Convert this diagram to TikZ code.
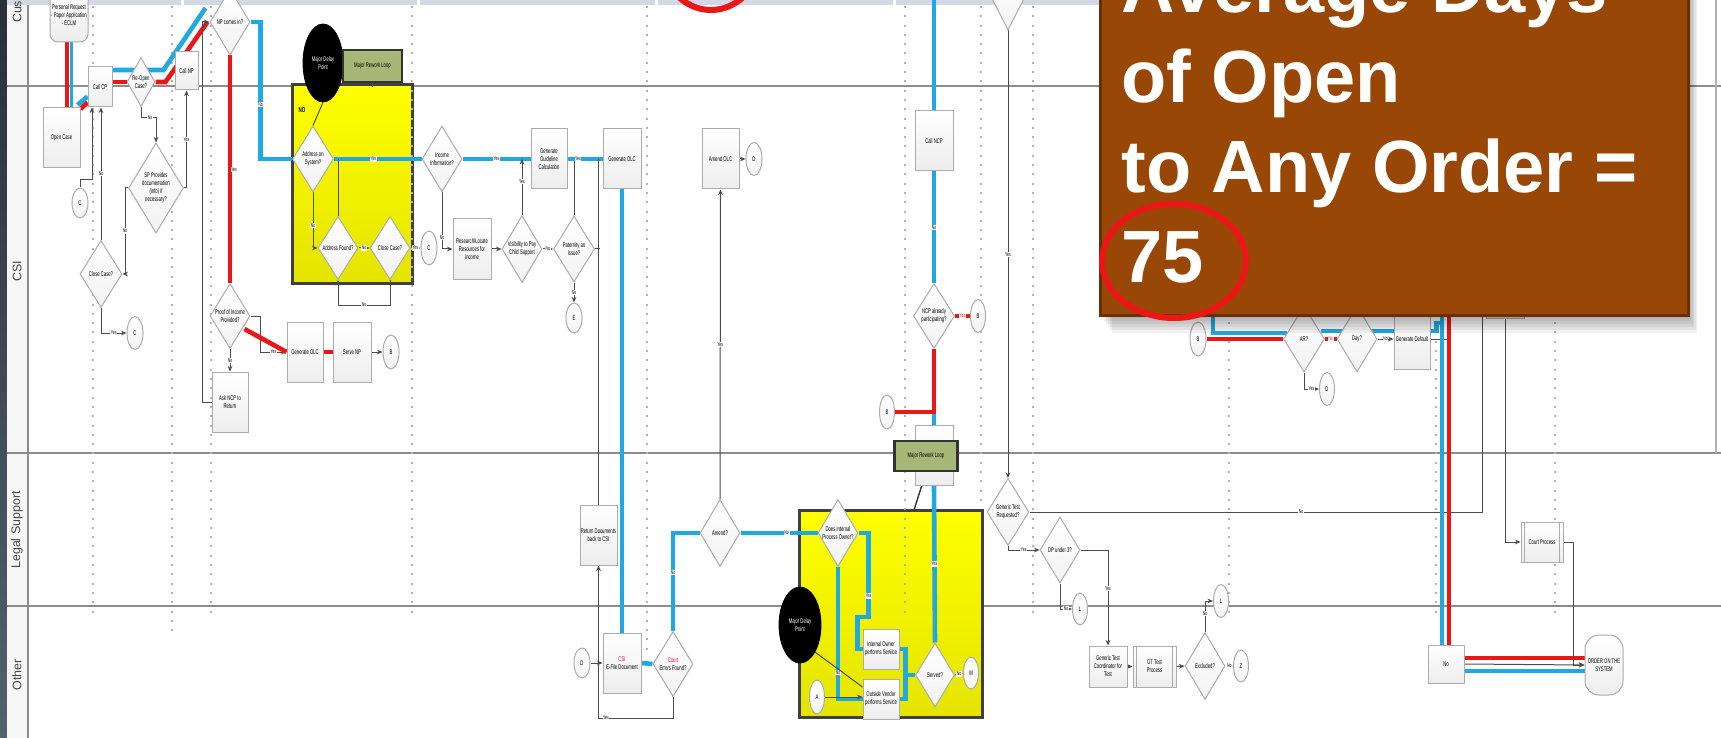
\documentclass[tikz,border=0pt]{standalone}
\usepackage{fontspec}
\setmainfont{Liberation Sans}
\newfontfamily\narrowf[FakeStretch=0.62]{Liberation Sans}
\usetikzlibrary{shapes.geometric,arrows.meta,calc}
\pgfdeclarelayer{back}
\pgfdeclarelayer{edges}
\pgfdeclarelayer{front}
\pgfsetlayers{back,edges,main,front}
\definecolor{ublue}{RGB}{32,168,226}
\definecolor{ured}{RGB}{236,22,22}
\definecolor{brownbox}{RGB}{153,71,6}
\definecolor{brownedge}{RGB}{105,48,4}
\definecolor{olivebox}{RGB}{168,182,118}
\definecolor{lav}{RGB}{212,216,230}
\definecolor{lanegray}{RGB}{140,140,140}
\definecolor{ybright}{RGB}{255,255,0}
\definecolor{ydark}{RGB}{228,228,0}
\newcommand\mytf{\narrowf\fontsize{3.4}{4}\selectfont}
\newcommand\mylf{\narrowf\fontsize{2.8}{3}\selectfont}
\tikzset{
 box/.style={rectangle, draw=gray!65, top color=white, bottom color=gray!14, line width=0.5pt, minimum width=18.5pt, minimum height=30pt, inner sep=0.3pt, align=center, font=\mytf},
 dia/.style={diamond, aspect=0.6, draw=gray!65, top color=white, bottom color=gray!10, line width=0.5pt, minimum width=20pt, minimum height=33pt, inner sep=0pt, align=center, font=\mytf},
 conn/.style={ellipse, draw=gray!65, top color=white, bottom color=gray!10, line width=0.5pt, minimum width=8pt, minimum height=16.5pt, inner sep=0pt, font=\mytf},
 blk/.style={ellipse, fill=black, draw=black, text=white, align=center, inner sep=0pt, font=\mytf},
 mrl/.style={rectangle, fill=olivebox, draw=black!80, line width=1.1pt, align=center, inner sep=0pt, font=\mytf},
 ln/.style={draw=gray!60!black, line width=0.5pt},
 arr/.style={-{Stealth[length=2.8pt,width=2.4pt]}},
 rl/.style={draw=ured, line width=2.3pt},
 bl/.style={draw=ublue, line width=2.3pt},
 lbl/.style={fill=white, inner sep=0.3pt, font=\mylf},
 yel/.style={top color=ybright, bottom color=ydark, draw=black!75, line width=1.5pt},
 dots/.style={draw=gray!60, line width=1pt, dash pattern=on 1pt off 3.65pt},
 lane/.style={rotate=90, font=\fontsize{6.2}{7}\selectfont, text=gray!55!black},
 big/.style={anchor=base west, text=white, inner sep=0pt, font=\fontsize{37}{44}\selectfont\bfseries},
}
\begin{document}
\begin{tikzpicture}[x=0.5pt,y=-0.5pt]
\useasboundingbox (0,0) rectangle (1721,738);
\begin{pgfonlayer}{back}
\fill[white] (0,0) rectangle (1721,738);
\shade[top color={rgb,255:red,40;green,48;blue,58}, bottom color={rgb,255:red,84;green,98;blue,110}] (0,0) rectangle (7,738);
\fill[gray!7] (7,0) rectangle (28,738);
\fill[lav] (7,0) rectangle (1400,5);
\foreach \g in {181,417,655,893,1131} \fill[white] (\g,0) rectangle (\g+3,5);
\draw[lanegray, line width=0.8pt] (28,5) -- (28,738);
\draw[lanegray, line width=0.8pt] (7,86) -- (1721,86);
\draw[lanegray, line width=0.8pt] (7,453) -- (1721,453);
\draw[lanegray, line width=0.8pt] (7,606) -- (1721,606);
\draw[gray!60, line width=0.6pt] (1716,0) -- (1716,453);
\draw[yel] (292,85) rectangle (412,283);
\draw[yel] (799,510) rectangle (982,717);
\foreach \x/\yb in {93/613,172/637,211/613,412/613,647/650,905/613,981/503,1033/617,1229/613,1436/613,1555/613}
  \draw[dots] (\x,6) -- (\x,\yb);
\end{pgfonlayer}

% lane labels
\node[lane] (lCust) at (17,-4) {Customer};
\node[lane] (lCSI) at (17,271) {CSI};
\node[lane] (lLegal) at (17,530) {Legal Support};
\node[lane] (lOther) at (17,675) {Other};

% ---- nodes: top lane
\node[box, minimum width=19pt, minimum height=27pt, rounded corners=4pt] (tApp) at (69,15) {Personal Request\\- Paper Application\\- ECLM};
\node[box, minimum width=12pt, minimum height=20pt] (cCP) at (100,87) {Call CP};
\node[dia, minimum width=14pt, minimum height=24.5pt] (dReopen) at (141,82) {Re-Open\\Case?};
\node[box, minimum width=11.5pt, minimum height=19pt] (cNP) at (186.5,71) {Call NP};
\node[dia] (dNP) at (230,22) {NP comes in?};
% ---- CSI lane left
\node[box] (bOpen) at (61.5,137.5) {Open Case};
\node[dia, minimum width=27.5pt, minimum height=45pt] (dSP) at (156,188) {SP Provides\\documentation\\(info) if\\necessary?};
\node[conn, minimum height=15pt] (eC1) at (80,203) {C};
\node[dia, minimum width=21pt, minimum height=33.5pt] (dClose1) at (101,274) {Close Case?};
\node[conn] (eC2) at (135,333) {C};
\node[dia, minimum height=32.5pt] (dProof) at (230,316) {Proof of Income\\Provided?};
\node[box, minimum width=18pt] (bAsk) at (230,402) {Ask NCP to\\Return};
\node[box, minimum width=18pt] (bGen1) at (305,352) {Generate OLC};
\node[box, minimum width=19pt] (bServe) at (352,352) {Serve NP};
\node[conn, minimum height=17pt] (eB1) at (391,352) {B};
% yellow box 1
\node[blk, minimum width=20pt, minimum height=39pt] (eMDP1) at (323,63) {Major Delay\\Point};
\node[mrl, minimum width=29.5pt, minimum height=16pt] (gMRL1) at (372.5,66) {Major Rework Loop};
\node[font=\narrowf\fontsize{3.6}{4}\selectfont\bfseries, text=black] (yNo) at (302,110) {NO};
\node[dia, minimum width=20.5pt] (dAddr) at (313,159) {Address on\\System?};
\node[dia, minimum height=31.5pt] (dFound) at (338,248) {Address Found?};
\node[dia, minimum height=31.5pt] (dClose2) at (390,248) {Close Case?};
\node[conn, minimum height=17pt] (eC3) at (429,248) {C};
% middle CSI
\node[dia] (dIncome) at (442,159) {Income\\Information?};
\node[box, minimum width=18pt] (bGuide) at (549,159) {Generate\\Guideline\\Calculation};
\node[box, minimum width=19pt] (bOLC) at (622,159) {Generate OLC};
\node[box, minimum width=19pt] (bResearch) at (472,249) {Research/Locate\\Resources for\\Income};
\node[dia, minimum height=33.5pt] (dVis) at (522,249) {Visibility to Pay\\Child Support};
\node[dia, minimum width=20.5pt] (dPat) at (574,249) {Paternity an\\Issue?};
\node[conn, minimum height=15pt] (eE) at (574,318) {E};
\node[box] (bAmend) at (720.5,159) {Amend OLC};
\node[conn] (eD1) at (754,159) {D};
\node[box, minimum width=19pt] (bCallNCP) at (934,141) {Call NCP};
\node[dia, minimum width=20.5pt, minimum height=32.5pt] (dNCP) at (934,316) {NCP already\\participating?};
\node[conn, minimum width=7.5pt] (eB2) at (978,316) {B};
\node[conn, minimum width=7.5pt, minimum height=17pt] (eB3) at (887,412) {B};
\node[box, minimum width=19pt] (bHidden) at (934,455) {};
\node[mrl, minimum width=31.5pt, minimum height=15pt] (gMRL2) at (926,456) {Major Rework Loop};
\node[dia, minimum width=17pt] (dTop) at (1008,-3) {};
% legal support
\node[box] (bReturn) at (598.5,535) {Return Documents\\back to CSI};
\node[dia, minimum height=33.5pt] (dAmendQ) at (720,533) {Amend?};
\node[dia, minimum height=33.5pt] (dInternal) at (838,533) {Does internal\\Process Owner?};
\node[blk, minimum width=21pt, minimum height=38pt] (eMDP2) at (800,625) {Major Delay\\Point};
\node[box, minimum width=18pt, minimum height=20pt] (bIntOwner) at (881,649) {Internal Owner\\performs Service};
\node[box, minimum width=18pt, minimum height=20pt] (bVendor) at (881,699) {Outside Vendor\\performs Service};
\node[conn, minimum width=7.5pt, minimum height=17pt] (eA) at (817,697) {A};
\node[dia, minimum width=19.5pt, minimum height=32pt] (dServed) at (935,675) {Served?};
\node[conn, minimum width=7.5pt, minimum height=16pt] (eM) at (971,673) {M};
\node[dia, minimum width=21pt, minimum height=33.5pt] (dGeneric) at (1008,512) {Generic Test\\Requested?};
\node[dia] (dUnder3) at (1060,550) {DP under 3?};
\node[conn, minimum width=7.5pt, minimum height=16pt] (eL1) at (1080,609) {L};
% other lane
\node[conn, minimum height=15pt] (eD2) at (582,663) {D};
\node[box, minimum width=19pt] (bEfile) at (622,663) {\textcolor{ured}{CSI}\\E-File Document};
\node[dia, minimum height=32.5pt] (dCourt) at (673,664) {\textcolor{ured}{Court}\\Errors Found?};
\node[box, minimum width=19pt, minimum height=20.5pt] (bCoord) at (1108,666.5) {Generic Test\\Coordinator for\\Test};
\node[box, minimum width=21.5pt, minimum height=20.5pt] (bGT) at (1154.5,666.5) {GT Test\\Process};
\node[dia, minimum height=33.5pt] (dExcl) at (1205,666) {Excluded?};
\node[conn, minimum width=7.5pt, minimum height=16pt] (eZ) at (1241,666) {Z};
\node[conn, minimum width=7.5pt] (eL2) at (1221,601) {L};
% right side
\node[conn, minimum height=17pt] (eB4) at (1198,339) {B};
\node[dia, minimum width=20.5pt] (dAR) at (1304,339) {AR?};
\node[dia] (dDay) at (1357,339) {Day?};
\node[box, minimum width=18pt] (bDefault) at (1412,339) {Generate Default};
\node[conn, minimum width=7.5pt] (eD3) at (1327,389) {D};
\node[box, minimum width=19pt] (bHid2) at (1505,288) {};
\node[box, minimum width=21pt, minimum height=20pt] (bCourt) at (1542,542) {Court Process};
\node[box, minimum width=18pt, minimum height=19pt] (bNo) at (1446,664) {No};
\node[box, minimum width=19pt, minimum height=30pt, rounded corners=7pt] (tOrder) at (1604,665) {ORDER ON THE\\SYSTEM};
\draw[gray!65, line width=0.5pt] ([xshift=2pt]bGT.north west) -- ([xshift=2pt]bGT.south west) ([xshift=-2pt]bGT.north east) -- ([xshift=-2pt]bGT.south east);
\draw[gray!65, line width=0.5pt] ([xshift=2pt]bCourt.north west) -- ([xshift=2pt]bCourt.south west) ([xshift=-2pt]bCourt.north east) -- ([xshift=-2pt]bCourt.south east);

\coordinate (y2top) at (914,510);
\coordinate (nA) at (1482,316);
\coordinate (nB) at (1213,316);
\coordinate (nBl) at (1442,316);
\coordinate (nR) at (1449,316);

\begin{pgfonlayer}{edges}
% top lane
\draw[bl, line width=1.3pt] ([xshift=1.2pt]tApp.south) -- ([xshift=1.2pt]tApp.south |- bOpen.north);
\draw[rl] ([xshift=-1pt]tApp.south) -- ([xshift=-1pt]tApp.south |- bOpen.north);
\draw[bl] ($(bOpen.north east)+(-3,-2)$) -- ($(cCP.south west)+(0,-11)$);
\draw[rl] ($(bOpen.north east)+(0,2)$) -- ($(cCP.south west)+(0,-5)$);
\draw[rl] ($(cCP.east)+(0,-5)$) -- (dReopen.west);
\draw[bl] ($(dNP.west)+(-4,-14)$) -- ($(cCP.east)+(51,-17)$) -- ($(cCP.east)+(0,-17)$);
\draw[rl] (dReopen.east) -- ++(10,0) -- ($(dNP.west)+(-2,0)$);
\draw[ln,arr] (dReopen.south) -- ++(0,11) -| (dSP.north) node[lbl,pos=0.3]{No};
\draw[ln,arr] (dSP.east) -| (cNP.south) node[lbl,pos=0.75]{Yes};
\draw[ln,arr] (dSP.west) -- ++(-3,0) |- (dClose1.east) node[lbl,pos=0.25]{No};
\draw[ln,arr] (dClose1.north) -- (dClose1.north |- cCP.south) node[lbl,midway]{No};
\draw[ln,arr] (eC1.north) -- ++(0,-8) -| ($(cCP.south)+(-8,0)$);
\draw[ln,arr] (dClose1.south) |- (eC2.west) node[lbl,pos=0.75]{Yes};
\draw[bl] (dNP.east) -- ++(10,0) |- (dAddr.west) node[lbl,pos=0.3]{No};
\draw[rl] (dNP.south) -- (dProof.north) node[lbl,midway,xshift=2pt]{Yes};
\draw[ln,arr] (dProof.east) -- ++(10,0) |- (bGen1.west) node[lbl,pos=0.75]{Yes};
\draw[rl] ($(dProof.east)+(-6,13)$) -- (bGen1.west);
\draw[ln,arr] (dProof.south) -- (bAsk.north) node[lbl,midway]{No};
\draw[ln,arr] (bAsk.west) -- ++(-9,0) |- (dNP.west);
\draw[rl] (bGen1.east) -- (bServe.west);
\draw[ln,arr] (bServe.east) -- (eB1.west);
% yellow 1
\draw[bl] (dAddr.east) -- (dIncome.west) node[lbl,pos=0.45]{Yes};
\draw[ln] (eMDP1.south) -- (dAddr.north);
\draw[ln] (gMRL1.south) -- ++(0,4);
\draw[ln,arr] (dAddr.south) |- (dFound.west) node[lbl,pos=0.3]{No};
\draw[ln] (dFound.north) -- (dFound.north |- dAddr.east);
\draw[ln,arr] (dFound.east) -- (dClose2.west) node[lbl,midway]{No};
\draw[ln,arr] (dClose2.south) -- ++(0,25) -| (dFound.south) node[lbl,pos=0.25]{No};
\draw[ln,arr] (dClose2.east) -- (eC3.west) node[lbl,midway]{Yes};
% income
\draw[bl] (dIncome.east) -- (bGuide.west) node[lbl,midway]{Yes};
\draw[ln,arr] (dIncome.south) |- (bResearch.west) node[lbl,pos=0.4]{No};
\draw[ln,arr] (bResearch.east) -- (dVis.west);
\draw[ln,arr] (dVis.north) -- (dVis.north |- dIncome.east) node[lbl,pos=0.6]{Yes};
\draw[ln,arr] (dVis.east) -- (dPat.west) node[lbl,midway]{No};
\draw[ln] (dPat.north) -- (dPat.north |- bGuide.east);
\draw[bl] (bGuide.east) -- (bOLC.west) node[lbl,pos=0.3]{Yes};
\draw[ln,arr] (dPat.south) -- (eE.north) node[lbl,midway]{No};
\draw[ln] (dPat.east) -- ($(dPat.east)+(5,0)$);
\draw[ln] (bReturn.north) -- (bReturn.north |- bOLC.west);
\draw[bl] (bOLC.south) -- (bEfile.north);
\draw[ln,arr] (bAmend.east) -- (eD1.west);
\draw[ln,arr] (dAmendQ.north) -- (bAmend.south) node[lbl,midway]{Yes};
\draw[ln,arr] (eD2.east) -- (bEfile.west);
\draw[bl] (bEfile.east) -- (dCourt.west);
\draw[bl] (dCourt.north) |- (dAmendQ.west) node[lbl,pos=0.3]{No};
\draw[ln,arr] (dCourt.south) -- ++(0,21) -| (bReturn.south) node[lbl,pos=0.45]{Yes};
\draw[bl] (dAmendQ.east) -- (dInternal.west) node[lbl,pos=0.6]{No};
% yellow 2
\draw[bl] (dInternal.east) -- ++(10,0) -- ++(0,84) node[lbl,pos=0.75]{Yes} -- ++(-11,0) |- (bIntOwner.west);
\draw[bl] (dInternal.south) |- (bVendor.west) node[lbl,pos=0.4]{No};
\draw[ln,arr] (eA.east) -- (eA.east -| bVendor.west);
\draw[ln] (eMDP2.south east) -- ($(bVendor.west)+(0,-12)$);
\draw[bl] (bIntOwner.east) -- ++(6,0) |- (dServed.west);
\draw[bl] (bVendor.east) -- ++(6,0) |- (dServed.west);
\draw[bl] (dServed.north) -- (bHidden.south) node[lbl,midway]{Yes};
\draw[ln,arr] (dServed.east) -- (eM.west) node[lbl,midway]{No};
\draw[draw=black!80, line width=0.7pt] (gMRL2.south) -- (y2top);
\draw[bl] (bHidden.north) -- ++(0,-15);
\draw[rl] (dNCP.south) |- (eB3.east);
\draw[bl] (dNCP.north) -- (bCallNCP.south) node[lbl,midway]{No};
\draw[bl] (bCallNCP.north) -- ++(0,-120);
\draw[rl] (dNCP.east) -- (eB2.west) node[lbl,midway,text=ured]{Yes};
\draw[ln,arr] (dTop.south) -- (dTop.south |- dGeneric.north) node[lbl,midway]{Yes};
\draw[ln] (dGeneric.east) -| (nA) node[lbl,pos=0.3]{No};
\draw[ln,arr] (dGeneric.south) |- (dUnder3.west) node[lbl,pos=0.75]{Yes};
\draw[ln,arr] (dUnder3.south) |- (eL1.west) node[lbl,pos=0.75]{No};
\draw[ln,arr] (dUnder3.east) -| (bCoord.north) node[lbl,pos=0.7]{Yes};
\draw[ln,arr] (bCoord.east) -- (bGT.west);
\draw[ln,arr] (bGT.east) -- (dExcl.west);
\draw[ln,arr] (dExcl.east) -- (eZ.west) node[lbl,midway]{No};
\draw[ln,arr] (dExcl.north) |- (eL2.west) node[lbl,pos=0.3]{No};
% right
\draw[bl] (nB) |- ($(dAR.west)+(4,-6)$);
\draw[rl] (eB4.east) -- (dAR.west);
\draw[bl] ($(dAR.east)+(-4,-8)$) -- ($(bDefault.east)+(6,-8)$) -- ($(bDefault.east)+(6,-16)$) -- ($(bDefault.east)+(12,-16)$);
\draw[rl] (dAR.east) -- (dDay.west) node[lbl,midway,text=ured]{No};
\draw[ln,arr] (dDay.east) -- (bDefault.west) node[lbl,midway]{No};
\draw[ln] (bDefault.east) -- ++(18,0);
\draw[ln,arr] (dAR.south) |- (eD3.west) node[lbl,pos=0.75]{Yes};
\draw[bl] (nBl) -- (nBl |- bNo.north);
\draw[rl] (nR) -- (nR |- bNo.north);
\draw[rl] ($(bNo.east)+(0,-6)$) -- ($(tOrder.west)+(0,-7)$);
\draw[bl] ($(bNo.east)+(0,7)$) -- ($(tOrder.west)+(0,6)$);
\draw[ln,arr] (bNo.east) -- (tOrder.west);
\draw[ln,arr] (bHid2.south) |- (bCourt.west);
\draw[ln,arr] (bCourt.east) -- ++(10,0) |- (tOrder.west);
\end{pgfonlayer}

\begin{pgfonlayer}{front}
\foreach \i in {1,...,6} \fill[black,opacity=0.06] (1100+2*\i,0) rectangle (1688+1.5*\i,315+3*\i);
\draw[fill=brownbox, draw=brownedge, line width=1.5pt] (1100,-10) rectangle (1688,315);
\node[big] (bt1) at (1121,13) {Average Days};
\node[big] (bt2) at (1121,103) {of Open};
\node[big] (bt3) at (1121,193) {to Any Order =};
\node[big] (bt4) at (1121,283) {75};
\draw[ured, line width=3pt] (1174,261) ellipse [x radius=72, y radius=57];
\draw[ured, line width=3pt] (711,-45) ellipse [x radius=50, y radius=55];
\end{pgfonlayer}
\end{tikzpicture}
\end{document}
